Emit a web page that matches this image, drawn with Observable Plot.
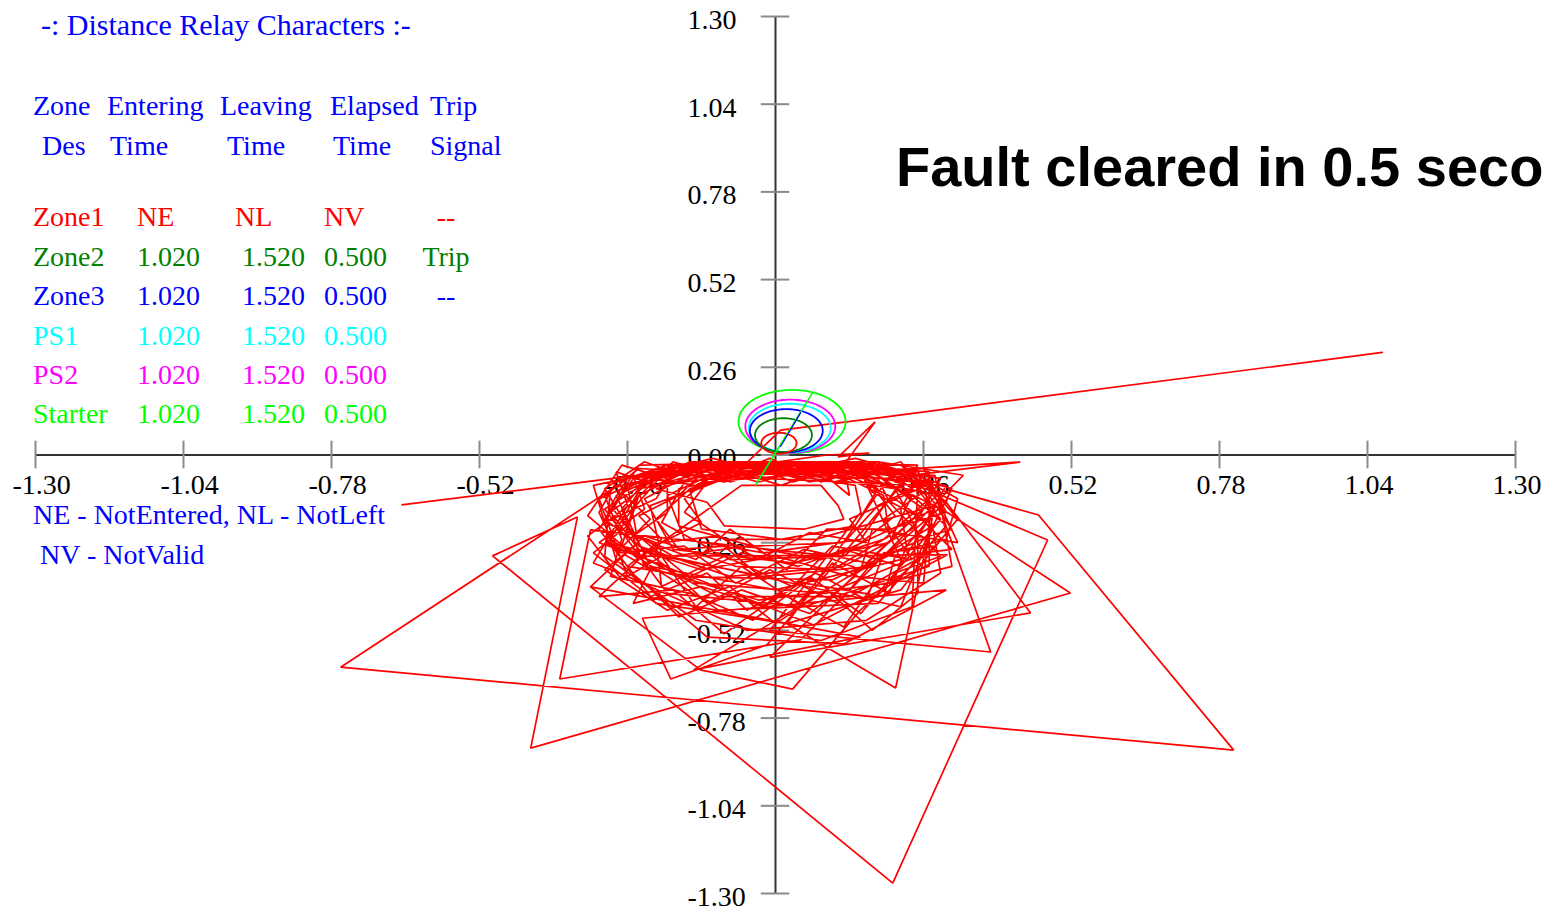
<!DOCTYPE html>
<html>
<head>
<meta charset="utf-8">
<script src="https://cdn.jsdelivr.net/npm/d3@7"></script>
<script src="https://cdn.jsdelivr.net/npm/@observablehq/plot@0.6"></script>
<style>
  html, body { margin: 0; padding: 0; background: #fff; overflow: hidden; }
  #wrap { position: relative; width: 1547px; height: 916px; overflow: hidden; }
  #chart { position: absolute; left: 0; top: 0; }
  #notes { position: absolute; left: 0; top: 0; width: 1547px; height: 916px; pointer-events: none; }
  .lbl { position: absolute; white-space: nowrap; line-height: 1; font-family: "Liberation Serif", "Times New Roman", serif; }
</style>
</head>
<body>
<div id="wrap">
  <div id="chart"></div>
  <div id="notes"></div>
</div>
<script>
// Axis ticks (R and X in the impedance plane)
const xTicks = [-1.30, -1.04, -0.78, -0.52, -0.26, 0.26, 0.52, 0.78, 1.04, 1.30];
const yTicks = [1.30, 1.04, 0.78, 0.52, 0.26, 0.00, -0.26, -0.52, -0.78, -1.04, -1.30];

// Relay zones: mho circles (centre R, centre X, radius)
const zoneNames   = ["Starter", "PS2", "PS1", "Zone3", "Zone2", "Zone1"];
const zoneColors  = ["#00ff00", "#ff00ff", "#00ffff", "#0000ff", "#008000", "#ff0000"];
const zoneCenterR = [0.029, 0.026, 0.025, 0.019, 0.014, 0.006];
const zoneCenterX = [0.099, 0.085, 0.080, 0.072, 0.059, 0.035];
const zoneRadius  = [0.094, 0.079, 0.072, 0.064, 0.050, 0.031];

// Line impedance characteristic
const lineR = [-0.035, 0.065];
const lineX = [-0.089, 0.184];
const lineMidR = [0.009, 0.044];
const lineMidX = [0.025, 0.125];

// Relay table
const tableTitle = "-: Distance Relay Characters :-";
const headRow1 = ["Zone", "Entering", "Leaving", "Elapsed", "Trip"];
const headRow2 = ["Des", "Time", "Time", "Time", "Signal"];
const rowNames    = ["Zone1", "Zone2", "Zone3", "PS1", "PS2", "Starter"];
const rowColors   = ["#ff0000", "#008000", "#0000ff", "#00ffff", "#ff00ff", "#00ff00"];
const enterTimes  = ["NE", "1.020", "1.020", "1.020", "1.020", "1.020"];
const leaveTimes  = ["NL", "1.520", "1.520", "1.520", "1.520", "1.520"];
const elapsedTime = ["NV", "0.500", "0.500", "0.500", "0.500", "0.500"];
const tripSignal  = ["--", "Trip", "--", "", "", ""];
const legendLines = ["NE - NotEntered, NL - NotLeft", "NV - NotValid"];
const annotation  = "Fault cleared in 0.5 seco";

// Apparent impedance seen by the relay [R, X]
const impedanceLocus = [
  [1.066, 0.304], [0.184, 0.111], [0.009, 0.074], [-0.058, -0.035], [0.090, 0.000], [0.165, 0.006], [0.110, -0.006], [0.175, 0.098], [0.120, -0.030],
  [0.13, -0.12], [0.08, -0.05], [-0.06, -0.05], [-0.15, -0.11], [-0.13, -0.22], [0.01, -0.25], [0.14, -0.21],
  [0.18, -0.10], [0.10, -0.04], [-0.09, -0.04], [-0.19, -0.12], [-0.16, -0.25], [-0.02, -0.29], [0.15, -0.25],
  [0.22, -0.08], [0.05, -0.03], [-0.13, -0.04], [-0.23, -0.13], [-0.18, -0.28], [0.03, -0.32], [0.20, -0.26], [0.24, -0.12], [0.10, -0.02],
  [-0.10, -0.03], [-0.657, -0.148], [-0.22, -0.055],
  [0.26, -0.09], [0.12, -0.02], [-0.10, -0.03], [-0.26, -0.09], [-0.24, -0.27], [-0.08, -0.36], [0.12, -0.33], [0.24, -0.22],
  [0.29, -0.07], [0.16, -0.03], [-0.15, -0.02], [-0.28, -0.12], [-0.22, -0.33], [0.00, -0.40], [0.22, -0.31],
  [0.15, -0.05], [0.430, -0.021], [0.19, -0.07],
  [0.24, -0.13], [0.20, -0.04], [0.00, -0.03], [-0.20, -0.06], [-0.27, -0.20], [-0.14, -0.38], [0.09, -0.41], [0.25, -0.30],
  [0.31, -0.10], [0.14, -0.02], [-0.18, -0.03], [-0.30, -0.16], [-0.19, -0.41], [0.05, -0.45], [0.27, -0.33],
  [0.27, -0.05], [0.06, -0.02], [-0.22, -0.05], [-0.29, -0.25], [-0.10, -0.46], [0.18, -0.44], [0.30, -0.21],
  [0.20, -0.06], [0.02, -0.04], [-0.16, -0.08], [-0.20, -0.20], [-0.08, -0.31], [0.12, -0.30], [0.21, -0.18],
  [0.16, -0.07], [-0.03, -0.05], [-0.17, -0.10], [-0.17, -0.21], [-0.04, -0.27], [0.12, -0.26], [0.18, -0.15],
  [0.24, -0.10], [0.20, -0.05], [0.11, -0.03], [0.02, -0.06], [-0.07, -0.03], [-0.17, -0.06], [-0.24, -0.12], [-0.26, -0.22], [-0.18, -0.30], [-0.05, -0.27], [0.08, -0.31], [0.19, -0.25],
  [0.27, -0.13], [0.23, -0.06], [0.13, -0.05], [0.05, -0.02], [-0.05, -0.06], [-0.15, -0.03], [-0.22, -0.08], [-0.29, -0.17], [-0.24, -0.28], [-0.13, -0.34], [0.00, -0.30], [0.13, -0.36], [0.23, -0.27],
  [0.22, -0.16], [0.25, -0.07], [0.16, -0.02], [0.07, -0.05], [-0.03, -0.03], [-0.12, -0.07], [-0.20, -0.04], [-0.27, -0.11], [-0.22, -0.19], [-0.28, -0.29], [-0.16, -0.27], [-0.07, -0.38], [0.05, -0.28], [0.16, -0.32],
  [0.29, -0.11], [0.21, -0.08], [0.18, -0.02], [0.09, -0.07], [0.00, -0.04], [-0.09, -0.08], [-0.18, -0.05], [-0.21, -0.13], [-0.30, -0.20], [-0.21, -0.26], [-0.20, -0.39], [-0.09, -0.30], [0.03, -0.39], [0.10, -0.27], [0.24, -0.31],
  [0.19, -0.19], [0.26, -0.11], [0.17, -0.08], [0.12, -0.02], [0.04, -0.07], [-0.06, -0.02], [-0.14, -0.09], [-0.25, -0.06], [-0.23, -0.16], [-0.31, -0.26], [-0.19, -0.33], [-0.12, -0.44], [-0.01, -0.34], [0.11, -0.44], [0.18, -0.30], [0.30, -0.25],
  [0.32, -0.13], [0.23, -0.04], [0.10, -0.08], [0.03, -0.03], [-0.08, -0.08], [-0.13, -0.02], [-0.21, -0.09], [-0.28, -0.05], [-0.26, -0.15], [-0.32, -0.32], [-0.23, -0.38], [-0.17, -0.48], [-0.06, -0.40], [0.06, -0.47], [0.14, -0.36], [0.26, -0.38], [0.27, -0.20],
  [0.17, -0.11], [0.15, -0.05], [0.06, -0.08], [-0.02, -0.03], [-0.11, -0.06], [-0.16, -0.13], [-0.13, -0.20], [-0.20, -0.26], [-0.10, -0.24], [-0.03, -0.31], [0.06, -0.23], [0.16, -0.26], [0.13, -0.19],
  [0.28, -0.08], [0.19, -0.03], [0.08, -0.06], [-0.04, -0.02], [-0.13, -0.05], [-0.24, -0.04], [-0.30, -0.12], [-0.27, -0.25], [-0.29, -0.36], [-0.15, -0.41], [-0.04, -0.49], [0.05, -0.38], [0.19, -0.42], [0.21, -0.30], [0.31, -0.28], [0.25, -0.18],
  [0.21, -0.13], [0.14, -0.07], [0.07, -0.02], [-0.01, -0.07], [-0.10, -0.04], [-0.19, -0.08], [-0.19, -0.17], [-0.25, -0.24], [-0.14, -0.31], [-0.08, -0.22], [0.02, -0.34], [0.09, -0.22], [0.20, -0.22],
  [0.30, -0.17], [0.26, -0.04], [0.15, -0.06], [0.08, -0.02], [-0.02, -0.05], [-0.09, -0.02], [-0.19, -0.07], [-0.27, -0.03], [-0.33, -0.18], [-0.24, -0.31], [-0.31, -0.42], [-0.18, -0.40], [-0.09, -0.53], [0.01, -0.41], [0.12, -0.51], [0.17, -0.39], [0.31, -0.33], [0.28, -0.06],
  [-0.10, -0.03], [-0.258, -0.068], [-0.764, -0.629], [0.805, -0.875], [0.462, -0.178], [0.307, -0.104],
  [0.30, -0.14], [0.22, -0.03], [-0.04, -0.02], [-0.25, -0.07], [-0.31, -0.22], [-0.21, -0.44], [0.02, -0.50], [0.22, -0.40],
  [0.32, -0.19], [0.25, -0.05], [0.03, -0.02], [-0.19, -0.04], [-0.31, -0.13], [-0.26, -0.36], [-0.05, -0.52], [0.16, -0.49], [0.29, -0.35],
  [0.28, -0.25], [0.26, -0.08], [0.10, -0.03], [-0.14, -0.03], [-0.29, -0.10], [-0.30, -0.30], [-0.14, -0.49], [0.08, -0.55], [0.24, -0.45],
  [0.25, -0.09], [0.478, -0.252], [0.206, -1.269], [-0.497, -0.299], [-0.348, -0.184], [-0.430, -0.869], [0.518, -0.409], [0.295, -0.163],
  [0.23, -0.11], [0.12, -0.05], [-0.08, -0.06], [-0.22, -0.15], [-0.20, -0.30], [-0.02, -0.36], [0.17, -0.33],
  [0.30, -0.14], [0.448, -0.468], [-0.01, -0.60],
  [0.26, -0.16], [0.17, -0.05], [-0.05, -0.04], [-0.24, -0.10], [-0.27, -0.27], [-0.10, -0.42], [0.13, -0.42], [0.27, -0.29],
  [0.27, -0.07], [0.378, -0.584], [-0.01, -0.52],
  [0.15, -0.17], [0.14, -0.09], [0.03, -0.06], [-0.12, -0.08], [-0.16, -0.17], [-0.09, -0.25], [0.07, -0.25],
  [0.28, -0.15], [0.211, -0.691], [0.02, -0.50],
  [0.21, -0.04], [-0.01, -0.02], [-0.21, -0.04], [-0.27, -0.16], [-0.23, -0.33], [-0.03, -0.43], [0.20, -0.38], [0.28, -0.16], [0.10, -0.30],
  [-0.325, -0.222], [-0.379, -0.664], [0.044, -0.548],
  [0.33, -0.06], [0.18, -0.02], [-0.12, -0.02], [-0.32, -0.09], [-0.28, -0.31], [-0.12, -0.54], [0.12, -0.56], [0.30, -0.40],
  [-0.234, -0.484], [-0.184, -0.664], [-0.015, -0.563],
  [0.25, -0.03], [0.04, -0.02], [-0.24, -0.03], [-0.30, -0.19], [-0.17, -0.36], [0.10, -0.37], [0.27, -0.24],
  [0.31, -0.22], [0.27, -0.12], [0.22, -0.02], [0.12, -0.07], [0.02, -0.02], [-0.08, -0.07], [-0.18, -0.02], [-0.25, -0.14], [-0.33, -0.24], [-0.27, -0.37], [-0.20, -0.30], [-0.14, -0.45], [-0.06, -0.33], [0.04, -0.44], [0.10, -0.32], [0.20, -0.41], [0.23, -0.27],
  [0.26, -0.21], [0.30, -0.09], [0.19, -0.07], [0.14, -0.03], [0.03, -0.08], [-0.04, -0.03], [-0.15, -0.07], [-0.23, -0.02], [-0.30, -0.10], [-0.26, -0.21], [-0.32, -0.29], [-0.22, -0.42], [-0.12, -0.35], [-0.05, -0.46], [0.06, -0.36], [0.15, -0.47], [0.21, -0.35], [0.29, -0.30],
  [0.20, -0.14], [0.18, -0.07], [0.09, -0.04], [0.01, -0.09], [-0.07, -0.05], [-0.15, -0.10], [-0.21, -0.19], [-0.17, -0.28], [-0.09, -0.27], [-0.02, -0.37], [0.07, -0.29], [0.15, -0.34], [0.17, -0.22],
  [0.32, -0.26], [0.29, -0.15], [0.25, -0.06], [0.14, -0.01], [0.00, -0.06], [-0.11, -0.01], [-0.26, -0.07], [-0.29, -0.15], [-0.24, -0.26], [-0.30, -0.34], [-0.19, -0.46], [-0.08, -0.39], [0.00, -0.50], [0.09, -0.40], [0.17, -0.52], [0.25, -0.41],
  [0.25, -0.23], [0.21, -0.10], [0.13, -0.08], [0.06, -0.04], [-0.03, -0.08], [-0.12, -0.04], [-0.17, -0.12], [-0.24, -0.18], [-0.20, -0.25], [-0.26, -0.33], [-0.15, -0.36], [-0.06, -0.29], [0.04, -0.33], [0.12, -0.28], [0.22, -0.33],
  [0.29, -0.19], [0.24, -0.08], [0.16, -0.04], [0.08, -0.08], [-0.01, -0.01], [-0.10, -0.07], [-0.19, -0.03], [-0.28, -0.08], [-0.31, -0.17], [-0.28, -0.28], [-0.22, -0.34], [-0.25, -0.44], [-0.13, -0.39], [-0.02, -0.45], [0.07, -0.35], [0.16, -0.43], [0.19, -0.29], [0.28, -0.27],
  [0.149, -0.46], [0.030, -0.694], [-0.132, -0.637], [-0.325, -0.391],
  [-0.23, -0.24], [-0.07, -0.33], [0.10, -0.34], [0.20, -0.24], [0.19, -0.12], [0.09, -0.04], [-0.10, -0.05], [-0.21, -0.10],
  [-0.12, -0.14], [-0.09, -0.21], [0.05, -0.22], [0.12, -0.19], [0.11, -0.15], [0.08, -0.09], [-0.06, -0.09],
  [-0.234, -0.30], [0.302, -0.296], [0.067, -0.504], [-0.30, -0.26], [0.22, -0.45], [0.278, -0.208], [-0.144, -0.637], [0.149, -0.54], [-0.325, -0.391]
];

// Circle outlines built from each zone's centre and radius
const circlePoints = zoneNames.flatMap((zone, i) =>
  d3.range(0, 361, 3).map(a => ({
    zone,
    R: zoneCenterR[i] + zoneRadius[i] * Math.cos(a * Math.PI / 180),
    X: zoneCenterX[i] + zoneRadius[i] * Math.sin(a * Math.PI / 180)
  }))
);

const tickFont = { fontFamily: "Liberation Serif", fontSize: 28, fill: "#000" };

const chart = Plot.plot({
  width: 1547,
  height: 916,
  marginLeft: 35,
  marginRight: 32,
  marginTop: 16,
  marginBottom: 23,
  x: { domain: [-1.3, 1.3], axis: null },
  y: { domain: [-1.3, 1.3], axis: null },
  color: { domain: zoneNames, range: zoneColors },
  style: { background: "#fff", overflow: "visible" },
  marks: [
    Plot.ruleY([0], { stroke: "#333", strokeWidth: 2 }),
    Plot.ruleX([0], { stroke: "#333", strokeWidth: 2 }),
    Plot.ruleX(xTicks, { x: d => d, y1: -0.041, y2: 0.041, stroke: "#8a8a8a", strokeWidth: 2 }),
    Plot.ruleY(yTicks, { y: d => d, x1: -0.025, x2: 0.025, stroke: "#8a8a8a", strokeWidth: 2 }),
    Plot.text(xTicks, { x: d => d, y: 0, text: d => d.toFixed(2), textAnchor: "start", dx: -23, dy: 30, ...tickFont }),
    Plot.text(yTicks, { x: 0, y: d => d, text: d => d.toFixed(2), textAnchor: "start", dx: -88, dy: 3.5, ...tickFont }),
    Plot.line(impedanceLocus, { x: d => d[0], y: d => d[1], stroke: "#ff0000", strokeWidth: 1.7, strokeLinejoin: "miter" }),
    Plot.line(circlePoints, { x: "R", y: "X", z: "zone", stroke: "zone", strokeWidth: 1.8 }),
    Plot.line(lineR.map((r, i) => [r, lineX[i]]), { x: d => d[0], y: d => d[1], stroke: "#00ff00", strokeWidth: 1.6 }),
    Plot.line(lineMidR.map((r, i) => [r, lineMidX[i]]), { x: d => d[0], y: d => d[1], stroke: "#0000ff", strokeWidth: 1.2 })
  ]
});
document.getElementById("chart").appendChild(chart);

// Text overlay, positioned by baseline
const notes = document.getElementById("notes");
function put(text, left, baseline, color, size, opts = {}) {
  const el = document.createElement("div");
  el.className = "lbl";
  el.textContent = text;
  const asc = opts.asc ?? 0.8375;
  el.style.fontSize = size + "px";
  el.style.color = color;
  el.style.top = (baseline - asc * size) + "px";
  el.style.left = left + "px";
  if (opts.family) el.style.fontFamily = opts.family;
  if (opts.weight) el.style.fontWeight = opts.weight;
  if (opts.center) el.style.transform = "translateX(-50%)";
  notes.appendChild(el);
}

const blue = "#0000ff";
put(tableTitle, 41, 35, blue, 30);
const head1Left = [33, 107, 220, 330, 430];
const head2Left = [42, 110, 227, 333, 430];
headRow1.forEach((t, i) => put(t, head1Left[i], 115, blue, 28));
headRow2.forEach((t, i) => put(t, head2Left[i], 155, blue, 28));

const rowBase = [226, 266, 305, 345, 384, 423];
rowNames.forEach((name, i) => {
  const c = rowColors[i];
  put(name, 33, rowBase[i], c, 28);
  put(enterTimes[i], 137, rowBase[i], c, 28);
  put(leaveTimes[i], i === 0 ? 235 : 242, rowBase[i], c, 28);
  put(elapsedTime[i], 324, rowBase[i], c, 28);
  if (tripSignal[i]) put(tripSignal[i], 446, rowBase[i], c, 28, { center: true });
});

put(legendLines[0], 33, 524, blue, 28);
put(legendLines[1], 40, 564, blue, 28);

put(annotation, 896, 186, "#000", 56, { family: '"Liberation Sans", Arial, sans-serif', weight: "bold", asc: 0.8465 });
</script>
</body>
</html>
